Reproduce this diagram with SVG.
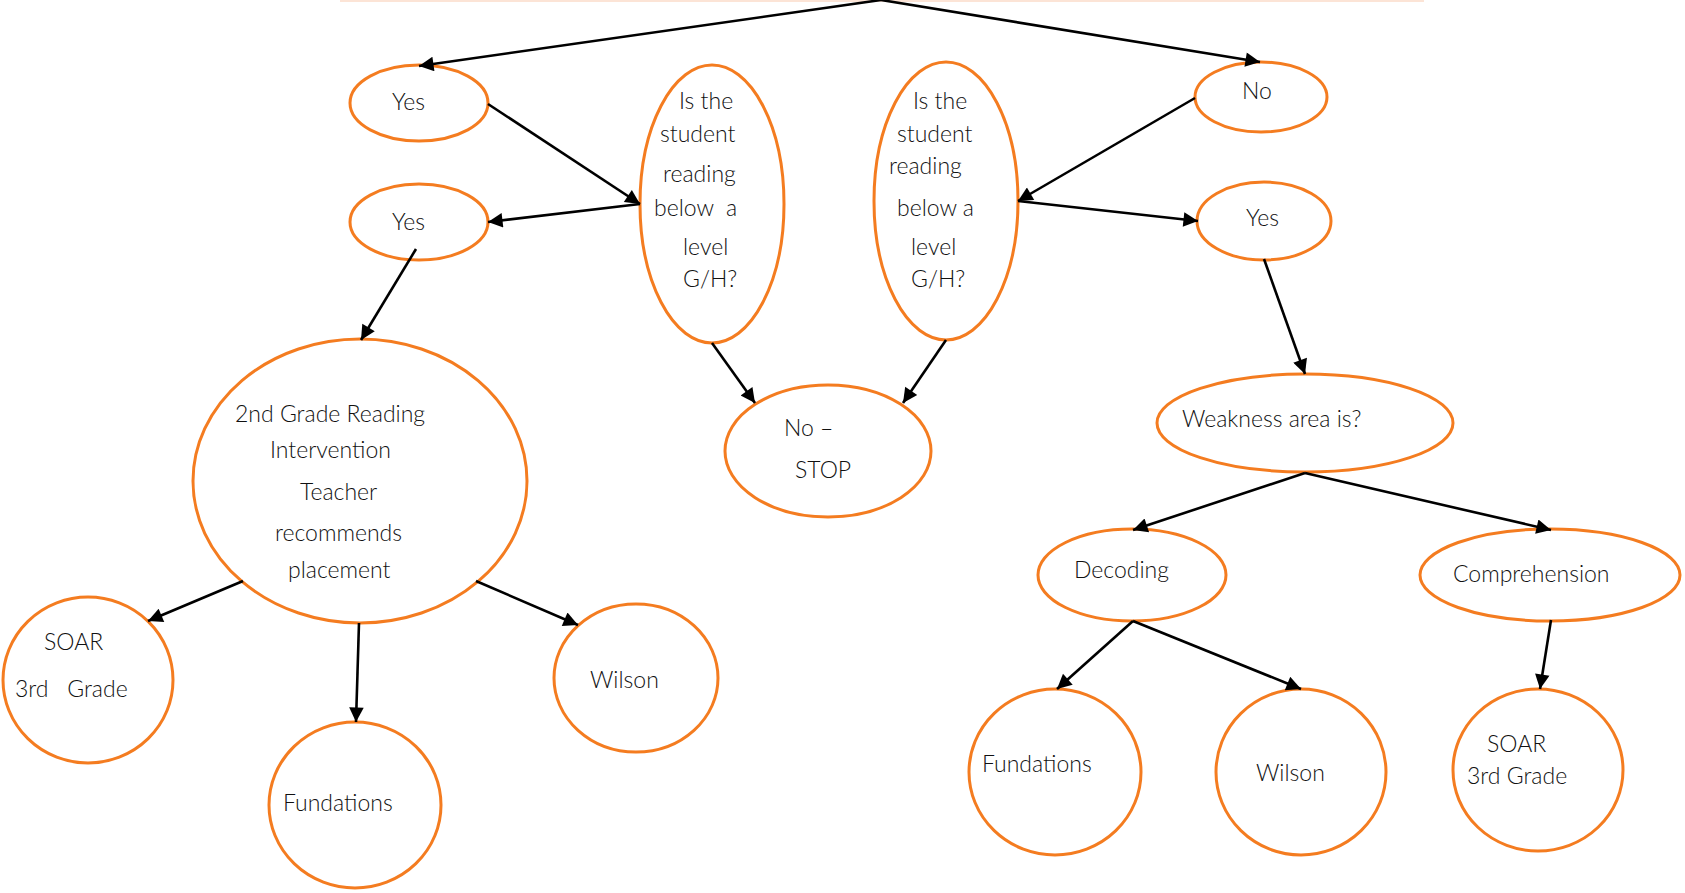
<svg xmlns="http://www.w3.org/2000/svg" width="1685" height="893" viewBox="0 0 1685 893">
<defs>
<marker id="arr" viewBox="0 0 10 10" refX="10" refY="5" markerWidth="7" markerHeight="5.6" markerUnits="strokeWidth" orient="auto">
<path d="M0,0 L10,5 L0,10 z" fill="#000"/>
</marker>
<style>
.n{fill:#fff;stroke:#F47C20;stroke-width:3}
.t{font-family:Lato,"Liberation Sans",sans-serif;font-weight:300;font-size:23px;fill:#111}
.c line{stroke:#000;stroke-width:2.6;marker-end:url(#arr)}
</style>
</defs>
<rect width="1685" height="893" fill="#fff"/>
<line x1="340" y1="1" x2="1424" y2="1" stroke="#FCE4D6" stroke-width="2"/>
<g id="yes1"><ellipse class="n" cx="419" cy="103" rx="69" ry="38"/><text class="t" x="392" y="110">Yes</text></g>
<g id="yes2"><ellipse class="n" cx="419" cy="222" rx="69" ry="38"/><text class="t" x="392" y="230">Yes</text></g>
<g id="q1"><ellipse class="n" cx="712" cy="204" rx="72" ry="139"/>
<text class="t" xml:space="preserve"><tspan x="679" y="109">Is the</tspan><tspan x="660" y="142">student</tspan><tspan x="663" y="182">reading</tspan><tspan x="654" y="216">below  a</tspan><tspan x="683" y="255">level</tspan><tspan x="683" y="287">G/H?</tspan></text></g>
<g id="q2"><ellipse class="n" cx="946" cy="201" rx="72" ry="139"/>
<text class="t"><tspan x="913" y="109">Is the</tspan><tspan x="897" y="142">student</tspan><tspan x="889" y="174">reading</tspan><tspan x="897" y="216">below a</tspan><tspan x="911" y="255">level</tspan><tspan x="911" y="287">G/H?</tspan></text></g>
<g id="no"><ellipse class="n" cx="1261" cy="97" rx="66" ry="35"/><text class="t" x="1242" y="99">No</text></g>
<g id="yes3"><ellipse class="n" cx="1264" cy="221" rx="67" ry="39"/><text class="t" x="1246" y="226">Yes</text></g>
<g id="intervention"><ellipse class="n" cx="360" cy="481" rx="167" ry="142"/>
<text class="t"><tspan x="235" y="422">2nd Grade Reading</tspan><tspan x="270" y="458">Intervention</tspan><tspan x="300" y="500">Teacher</tspan><tspan x="275" y="541">recommends</tspan><tspan x="288" y="578">placement</tspan></text></g>
<g id="nostop"><ellipse class="n" cx="828" cy="451" rx="103" ry="66"/>
<text class="t"><tspan x="784" y="436">No –</tspan><tspan x="795" y="478">STOP</tspan></text></g>
<g id="weakness"><ellipse class="n" cx="1305" cy="423" rx="148" ry="49"/><text class="t" x="1182" y="427">Weakness area is?</text></g>
<g id="decoding"><ellipse class="n" cx="1132" cy="575" rx="94" ry="46"/><text class="t" x="1074" y="578">Decoding</text></g>
<g id="comprehension"><ellipse class="n" cx="1550" cy="575" rx="130" ry="46"/><text class="t" x="1453" y="582">Comprehension</text></g>
<g id="soar1"><ellipse class="n" cx="88" cy="680" rx="85" ry="83"/>
<text class="t" xml:space="preserve"><tspan x="44" y="650">SOAR</tspan><tspan x="15" y="697">3rd   Grade</tspan></text></g>
<g id="fundations1"><ellipse class="n" cx="355" cy="805" rx="86" ry="83"/><text class="t" x="283" y="811">Fundations</text></g>
<g id="wilson1"><ellipse class="n" cx="636" cy="678" rx="82" ry="74"/><text class="t" x="590" y="688">Wilson</text></g>
<g id="fundations2"><ellipse class="n" cx="1055" cy="772" rx="86" ry="83"/><text class="t" x="982" y="772">Fundations</text></g>
<g id="wilson2"><ellipse class="n" cx="1301" cy="772" rx="85" ry="83"/><text class="t" x="1256" y="781">Wilson</text></g>
<g id="soar2"><ellipse class="n" cx="1538" cy="770" rx="85" ry="81"/>
<text class="t"><tspan x="1487" y="752">SOAR</tspan><tspan x="1467" y="784">3rd Grade</tspan></text></g>
<g id="connectors" class="c">
<line x1="881" y1="0" x2="419" y2="66"/>
<line x1="881" y1="0" x2="1260" y2="62"/>
<line x1="488" y1="104" x2="640" y2="204"/>
<line x1="640" y1="204" x2="488" y2="222"/>
<line x1="416" y1="249" x2="361" y2="340"/>
<line x1="712" y1="343" x2="755" y2="403"/>
<line x1="946" y1="340" x2="903" y2="403"/>
<line x1="1195" y1="98" x2="1018" y2="201"/>
<line x1="1018" y1="201" x2="1198" y2="221"/>
<line x1="1264" y1="259" x2="1305" y2="374"/>
<line x1="1305" y1="473" x2="1133" y2="530"/>
<line x1="1305" y1="473" x2="1551" y2="530"/>
<line x1="1133" y1="621" x2="1057" y2="689"/>
<line x1="1133" y1="621" x2="1301" y2="689"/>
<line x1="1551" y1="620" x2="1540" y2="689"/>
<line x1="243" y1="581" x2="148" y2="621"/>
<line x1="359" y1="623" x2="356" y2="722"/>
<line x1="476" y1="581" x2="578" y2="625"/>
</g>
</svg>
